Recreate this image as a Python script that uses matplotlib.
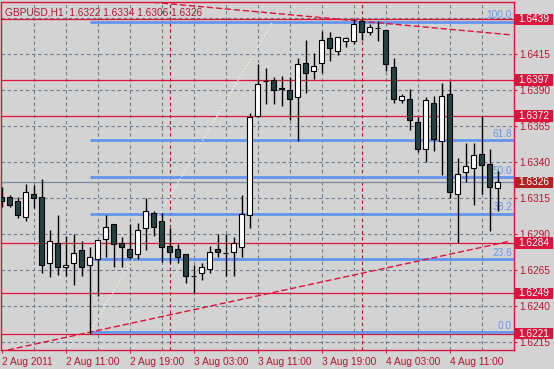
"""GBPUSD H1 candles with levels, fibo and trend lines (MT4 look)."""

import matplotlib
matplotlib.use("Agg")
import matplotlib.pyplot as plt
import matplotlib.transforms as mtransforms
from matplotlib.patches import Rectangle
import numpy as np

plt.rcParams["font.family"] = ["Liberation Sans", "DejaVu Sans"]

# hourly bars, 2 Aug 2011 03:00 .. 4 Aug 2011 17:00
opens = [1.6316, 1.6316, 1.6313, 1.6302, 1.6318, 1.6316, 1.6270, 1.6284, 1.6267, 1.6270,
         1.6279, 1.6269, 1.6273, 1.6287, 1.6297, 1.6284, 1.6280, 1.6276, 1.6294, 1.6305,
         1.6299, 1.6282, 1.6280, 1.6276, 1.6261, 1.6263, 1.6266, 1.6280, 1.6277, 1.6278,
         1.6281, 1.6303, 1.6372, 1.6396, 1.6397, 1.6391, 1.6390, 1.6385, 1.6409, 1.6403,
         1.6409, 1.6426, 1.6417, 1.6424, 1.6424, 1.6438, 1.6430, 1.6433, 1.6432, 1.6406,
         1.6383, 1.6384, 1.6368, 1.6349, 1.6381, 1.6355, 1.6387, 1.6318, 1.6333, 1.6336,
         1.6346, 1.6339, 1.6322]
highs = [1.6323, 1.6317, 1.6316, 1.6325, 1.6324, 1.6328, 1.6293, 1.6303, 1.6289, 1.6290,
         1.6285, 1.6281, 1.6286, 1.6303, 1.6297, 1.6288, 1.6297, 1.6298, 1.6315, 1.6306,
         1.6305, 1.6294, 1.6283, 1.6276, 1.6269, 1.6270, 1.6282, 1.6290, 1.6290, 1.6288,
         1.6317, 1.6374, 1.6408, 1.6405, 1.6399, 1.6400, 1.6399, 1.6412, 1.6425, 1.6416,
         1.6431, 1.6430, 1.6427, 1.6427, 1.6439, 1.6439, 1.6436, 1.6438, 1.6432, 1.6412,
         1.6387, 1.6391, 1.6371, 1.6385, 1.6386, 1.6395, 1.6396, 1.6343, 1.6353, 1.6353,
         1.6372, 1.6349, 1.6334]
lows = [1.6309, 1.6309, 1.6301, 1.6299, 1.6308, 1.6263, 1.6260, 1.6262, 1.6261, 1.6255,
        1.6261, 1.6221, 1.6247, 1.6274, 1.6267, 1.6267, 1.6273, 1.6273, 1.6279, 1.6289,
        1.6271, 1.6270, 1.6270, 1.6256, 1.6249, 1.6258, 1.6263, 1.6274, 1.6261, 1.6261,
        1.6274, 1.6294, 1.6371, 1.6380, 1.6380, 1.6379, 1.6369, 1.6355, 1.6388, 1.6398,
        1.6402, 1.6410, 1.6414, 1.6420, 1.6422, 1.6425, 1.6428, 1.6424, 1.6403, 1.6381,
        1.6381, 1.6362, 1.6347, 1.6340, 1.6348, 1.6331, 1.6315, 1.6284, 1.6326, 1.6310,
        1.6318, 1.6292, 1.6306]
closes = [1.6313, 1.6310, 1.6303, 1.6319, 1.6315, 1.6269, 1.6285, 1.6267, 1.6269, 1.6277,
          1.6267, 1.6274, 1.6286, 1.6295, 1.6283, 1.6281, 1.6274, 1.6293, 1.6306, 1.6295,
          1.6281, 1.6278, 1.6274, 1.6261, 1.6261, 1.6267, 1.6278, 1.6278, 1.6277, 1.6284,
          1.6304, 1.6371, 1.6394, 1.6396, 1.6390, 1.6391, 1.6384, 1.6408, 1.6402, 1.6407,
          1.6425, 1.6419, 1.6427, 1.6426, 1.6436, 1.6430, 1.6434, 1.6433, 1.6408, 1.6384,
          1.6386, 1.6369, 1.6349, 1.6383, 1.6356, 1.6386, 1.6319, 1.6332, 1.6337, 1.6345,
          1.6338, 1.6323, 1.6326]

x_labels = ["2 Aug 2011", "2 Aug 11:00", "2 Aug 19:00", "3 Aug 03:00",
            "3 Aug 11:00", "3 Aug 19:00", "4 Aug 03:00", "4 Aug 11:00"]
y_ticks = [1.6215, 1.6240, 1.6265, 1.6290, 1.6315, 1.6340, 1.6365, 1.6390, 1.6415]
grid_prices = [1.6215, 1.6240, 1.6265, 1.6290, 1.6315, 1.6340, 1.6365, 1.6390, 1.6415, 1.6440]
day_breaks = [21, 45]

levels = [1.6439, 1.6397, 1.6372, 1.6284, 1.6249, 1.6221]
bid = 1.6326

fib_low, fib_high = 1.6222, 1.64375
fib_ratios = [0.0, 23.6, 38.2, 50.0, 61.8, 100.0]
fib_start, fib_end = 11, 33.9

# two hand drawn trend lines (bar index, price)
trend_up = ([11, 63.4], [1.6222, 1.6285])
trend_down = ([33.6, 63.9], [1.64435, 1.64282])

RED = "#DC143C"
TXT = "#B81430"
BG = "#D3D3D3"
BLUE = "#6495ED"
BEAR = "#274141"
FS = 7.3

fig = plt.figure(figsize=(5.54, 3.69), dpi=100, facecolor=BG)
W, H = 554, 369
ax = fig.add_axes([1 / W, 19 / H, 513 / W, 348 / H], facecolor=BG)

n = len(opens)
idx = np.arange(n)
ax.set_xlim(-0.0625, 64.06)
ax.set_ylim(1.62097, 1.64511)

# grid
for g in grid_prices:
    ax.axhline(g, color="#6F7C8C", lw=0.8, ls=(0, (3, 2.5)), zorder=1)
for k in range(4, 64, 4):
    ax.axvline(k, color="#6F7C8C", lw=0.8, ls=(0, (3, 2.5)), zorder=1)
for k in day_breaks:
    ax.axvline(k, color="#B01020", lw=0.8, ls=(0, (3, 2.5)), zorder=1)

# horizontal levels
for lv in levels:
    ax.axhline(lv, color=RED, lw=0.9, zorder=2)
ax.axhline(bid, color="#778899", lw=0.9, zorder=2)

# fibonacci
blend = mtransforms.blended_transform_factory(ax.transAxes, ax.transData)
for r in fib_ratios:
    p = fib_low + (fib_high - fib_low) * r / 100
    ax.hlines(p, fib_start, 64.1, color=BLUE, lw=2, zorder=2)
    ax.text(0.996, p + 0.00008, f"{r:.1f}", transform=blend,
            ha="right", va="bottom", fontsize=FS, color=BLUE, zorder=3)
ax.plot([fib_start, fib_end], [fib_low, fib_high], color="#F4F0D8", lw=1, ls=(0, (1, 1.5)), zorder=2)

# trend lines, extended as rays
for xs, ys in (trend_up, trend_down):
    slope = (ys[1] - ys[0]) / (xs[1] - xs[0])
    x0 = -5
    ax.plot([x0, xs[1]], [ys[0] + slope * (x0 - xs[0]), ys[1]], color=RED, lw=1,
            ls=(0, (4.5, 2)), zorder=2)

# candles
o = np.array(opens)
c = np.array(closes)
ax.vlines(idx, lows, highs, color="black", lw=1, zorder=4)
up = c >= o
body_lo = np.minimum(o, c)
body_h = np.maximum(np.abs(c - o), 0.000015)
ax.bar(idx[up], body_h[up], bottom=body_lo[up], width=0.6, color="white",
       edgecolor="black", lw=0.8, zorder=5)
ax.bar(idx[~up], body_h[~up], bottom=body_lo[~up], width=0.6, color=BEAR,
       edgecolor="black", lw=0.8, zorder=5)

# axes styling
for s in ax.spines.values():
    s.set_color(RED)
    s.set_linewidth(1)
ax.yaxis.tick_right()
ax.set_yticks(y_ticks)
ax.set_yticklabels([f"{t:.4f}" for t in y_ticks])
ax.tick_params(axis="y", colors=RED, labelsize=FS, length=2, pad=2, labelcolor=TXT)
ax.set_xticks(np.arange(0, 64, 8))
ax.set_xticklabels(x_labels, ha="left")
ax.tick_params(axis="x", colors=RED, labelsize=FS, length=2, pad=3, labelcolor=TXT)

# price boxes on the right
box_h = 0.00078
for lv, col in [(lv, RED) for lv in levels] + [(bid, "#B22222")]:
    ax.add_patch(Rectangle((1.0025, lv - box_h / 2), 0.074, box_h, transform=blend,
                           facecolor=col, edgecolor="none", clip_on=False, zorder=6))
    ax.text(1.039, lv, f"{lv:.4f}", transform=blend, ha="center", va="center",
            fontsize=FS, color="white", clip_on=False, zorder=7)

ax.text(0.008, 0.985, "GBPUSD,H1  1.6322 1.6334 1.6306 1.6326", transform=ax.transAxes,
        ha="left", va="top", fontsize=FS, color=TXT, zorder=7)

fig.savefig("out.png", dpi=100, facecolor=BG)
